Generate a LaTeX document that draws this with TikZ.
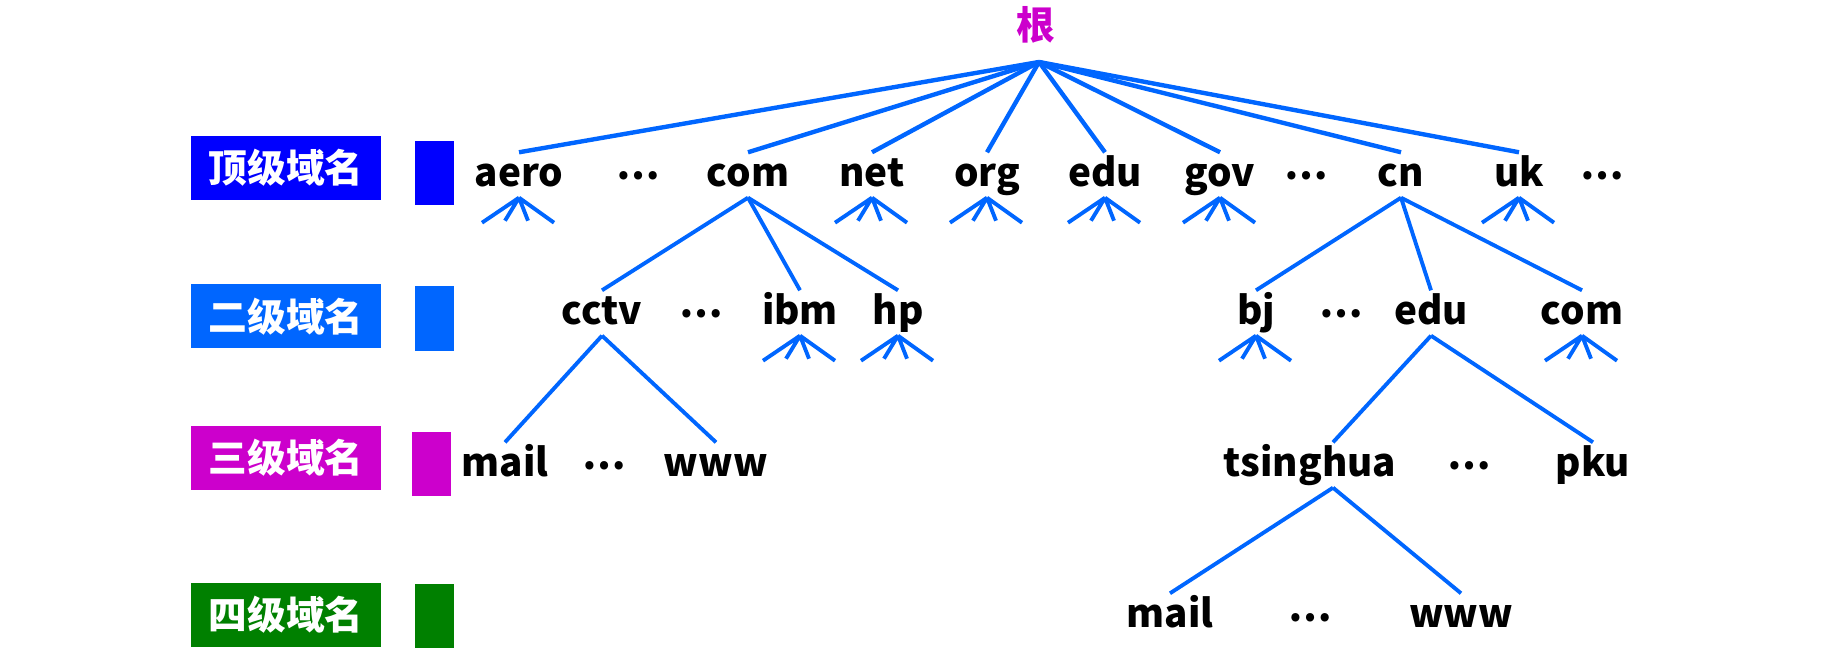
\documentclass[tikz,border=0pt]{standalone}
\usepackage{fontspec}
\setmainfont{Noto Sans CJK SC}
\definecolor{lineblue}{RGB}{0,102,255}
\definecolor{topblue}{RGB}{0,0,255}
\definecolor{rootpink}{RGB}{204,0,204}
\definecolor{darkgreen}{RGB}{0,128,0}
\tikzset{
  dom/.style={font=\bfseries\fontsize{11}{13}\selectfont, anchor=base, inner sep=1mm, text height=2.4mm, text depth=0mm},
  dots/.style={dom, yshift=0.7mm},
  lvl/.style={fill=#1, text=white, font=\bfseries\fontsize{11}{12}\selectfont, minimum width=19mm, minimum height=6.4mm, inner sep=0pt},
  branch/.style={lineblue, line width=1.1pt},
  rootline/.style={lineblue, line width=1.25pt}
}
\begin{document}
\begin{tikzpicture}
            \useasboundingbox (0,0) rectangle (18.42,-6.59);

            % level boxes on the left
            \node[lvl=topblue] (l1) at (2.86,-1.68) {顶级域名};
            \node[lvl=lineblue] (l2) at (2.86,-3.165) {二级域名};
            \node[lvl=rootpink] (l3) at (2.86,-4.58) {三级域名};
            \node[lvl=darkgreen] (l4) at (2.86,-6.15) {四级域名};
            \fill[topblue] (4.15,-1.41) rectangle (4.54,-2.05);
            \fill[lineblue] (4.15,-2.86) rectangle (4.54,-3.51);
            \fill[rootpink] (4.12,-4.32) rectangle (4.51,-4.96);
            \fill[darkgreen] (4.15,-5.84) rectangle (4.54,-6.48);

            % root
            \node[font=\bfseries\fontsize{11}{12}\selectfont, text=rootpink] (root) at (10.36,-0.25) {根};
            \coordinate (top) at (10.39,-0.62);

            % top level
            \node[dom] (aero) at (5.19,-1.87) {aero};
            \node[dots] (d1) at (6.38,-1.87) {⋯};
            \node[dom] (com) at (7.48,-1.87) {com};
            \node[dom] (net) at (8.72,-1.87) {net};
            \node[dom] (org) at (9.87,-1.87) {org};
            \node[dom] (edu) at (11.05,-1.87) {edu};
            \node[dom] (gov) at (12.20,-1.87) {gov};
            \node[dots] (d2) at (13.06,-1.87) {⋯};
            \node[dom] (cn) at (14.01,-1.87) {cn};
            \node[dom] (uk) at (15.19,-1.87) {uk};
            \node[dots] (d3) at (16.02,-1.87) {⋯};

            % second level
            \node[dom] (cctv) at (6.02,-3.25) {cctv};
            \node[dots] (d4) at (7.01,-3.25) {⋯};
            \node[dom] (ibm) at (8.00,-3.25) {ibm};
            \node[dom] (hp) at (8.98,-3.25) {hp};
            \node[dom] (bj) at (12.56,-3.25) {bj};
            \node[dots] (d5) at (13.41,-3.25) {⋯};
            \node[dom] (edu2) at (14.31,-3.25) {edu};
            \node[dom] (com2) at (15.82,-3.25) {com};

            % third level
            \node[dom] (mail3) at (5.05,-4.77) {mail};
            \node[dots] (d6) at (6.04,-4.77) {⋯};
            \node[dom] (www3) at (7.16,-4.77) {www};
            \node[dom] (tsinghua) at (13.10,-4.77) {tsinghua};
            \node[dots] (d7) at (14.69,-4.77) {⋯};
            \node[dom] (pku) at (15.93,-4.77) {pku};

            % fourth level
            \node[dom] (mail4) at (11.70,-6.28) {mail};
            \node[dots] (d8) at (13.10,-6.28) {⋯};
            \node[dom] (www4) at (14.61,-6.28) {www};

            \foreach \n in {aero,com,net,org,edu,gov,cn,uk}
                \draw[rootline] (top) -- (\n.north);
            \foreach \n in {cctv,ibm,hp}
                \draw[branch] (com.south) -- (\n.north);
            \foreach \n in {bj,edu2,com2}
                \draw[branch] (cn.south) -- (\n.north);
            \foreach \n in {mail3,www3}
                \draw[branch] (cctv.south) -- (\n.north);
            \draw[branch] (edu2.south) -- ([xshift=2.3mm]tsinghua.north);
            \draw[branch] (edu2.south) -- (pku.north);
            \foreach \n in {mail4,www4}
                \draw[branch] ([xshift=2.3mm]tsinghua.south) -- (\n.north);

            % unnamed children
            \foreach \n in {aero,net,org,edu,gov,uk,ibm,hp,bj,com2}
                \draw[branch] (\n.south) -- ++(-0.37,-0.25) (\n.south) -- ++(-0.14,-0.23)
                    (\n.south) -- ++(0.09,-0.23) (\n.south) -- ++(0.35,-0.25);
        \end{tikzpicture}
\end{document}
